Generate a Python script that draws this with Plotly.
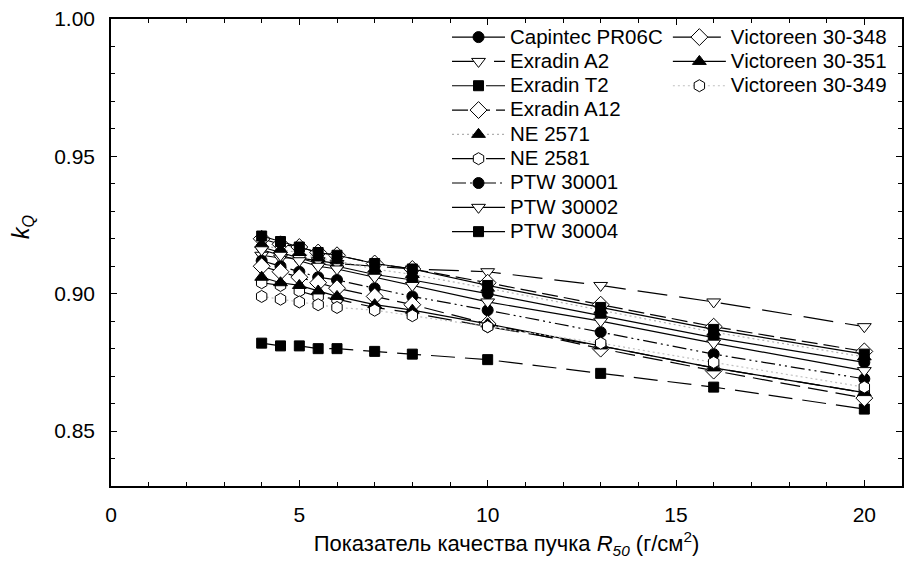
import plotly.graph_objects as go

# Beam quality R50 (g/cm^2)
r50 = [4.0, 4.5, 5.0, 5.5, 6.0, 7.0, 8.0, 10.0, 13.0, 16.0, 20.0]

capintec_pr06c = [0.917, 0.915, 0.913, 0.911, 0.910, 0.907, 0.905, 0.900, 0.892, 0.884, 0.875]
exradin_a2     = [0.914, 0.913, 0.913, 0.912, 0.911, 0.910, 0.909, 0.908, 0.903, 0.897, 0.888]
exradin_t2     = [0.882, 0.881, 0.881, 0.880, 0.880, 0.879, 0.878, 0.876, 0.871, 0.866, 0.858]
exradin_a12    = [0.920, 0.918, 0.917, 0.915, 0.914, 0.911, 0.909, 0.904, 0.896, 0.888, 0.879]
ne_2571        = [0.918, 0.916, 0.915, 0.913, 0.912, 0.909, 0.907, 0.902, 0.894, 0.886, 0.877]
ne_2581        = [0.904, 0.903, 0.901, 0.899, 0.898, 0.895, 0.893, 0.888, 0.881, 0.873, 0.864]
ptw_30001      = [0.912, 0.910, 0.908, 0.906, 0.905, 0.902, 0.899, 0.894, 0.886, 0.878, 0.869]
ptw_30002      = [0.916, 0.914, 0.912, 0.910, 0.909, 0.906, 0.903, 0.897, 0.890, 0.882, 0.872]
ptw_30004      = [0.921, 0.919, 0.917, 0.915, 0.914, 0.911, 0.909, 0.903, 0.895, 0.887, 0.878]
vic_30_348     = [0.910, 0.908, 0.906, 0.904, 0.902, 0.899, 0.896, 0.889, 0.880, 0.872, 0.862]
vic_30_351     = [0.906, 0.904, 0.903, 0.901, 0.899, 0.896, 0.894, 0.889, 0.881, 0.873, 0.864]
vic_30_349     = [0.899, 0.898, 0.897, 0.896, 0.895, 0.894, 0.892, 0.888, 0.882, 0.875, 0.866]

names = ["Capintec PR06C", "Exradin A2", "Exradin T2", "Exradin A12", "NE 2571",
         "NE 2581", "PTW 30001", "PTW 30002", "PTW 30004",
         "Victoreen 30-348", "Victoreen 30-351", "Victoreen 30-349"]
series = [capintec_pr06c, exradin_a2, exradin_t2, exradin_a12, ne_2571,
          ne_2581, ptw_30001, ptw_30002, ptw_30004,
          vic_30_348, vic_30_351, vic_30_349]

# style per series: (symbol, filled, size, dash, line colour)
styles = [
    ("circle", True, 11, "solid", "black"),
    ("triangle-down", False, 12, "30px,12px", "black"),
    ("square", True, 10, "24px,10px", "black"),
    ("diamond", False, 13, "16px,6px", "black"),
    ("triangle-up", True, 12, "2px,3px", "#b0b0b0"),
    ("hexagon", False, 12, "24px,10px", "black"),
    ("circle", True, 11, "14px,4px,2px,4px,2px,4px", "black"),
    ("triangle-down", False, 12, "solid", "black"),
    ("square", True, 10, "solid", "black"),
    ("diamond", False, 13, "20px,8px", "black"),
    ("triangle-up", True, 12, "solid", "black"),
    ("hexagon", False, 12, "2px,3px", "#c0c0c0"),
]

fig = go.Figure()
for i, (nm, ys, st) in enumerate(zip(names, series, styles)):
    sym, filled, size, dash, lc = st
    fig.add_trace(go.Scatter(
        x=r50, y=ys, mode="lines+markers",
        name='<span style="font-size:20.5px">' + nm + '</span>',
        line=dict(color=lc, width=1.2, dash=dash),
        marker=dict(symbol=sym, size=size,
                    color="black" if filled else "white",
                    line=dict(color="black", width=1)),
        legend="legend" if i < 9 else "legend2",
    ))

font_family = "Arial, Liberation Sans, sans-serif"

legend_common = dict(xanchor="left", yanchor="top", itemwidth=53,
                     bgcolor="rgba(0,0,0,0)", font=dict(size=16.4, family=font_family),
                     tracegroupgap=0)

fig.update_layout(
    width=904, height=562,
    margin=dict(l=111, r=2, t=19, b=76, autoexpand=False),
    paper_bgcolor="white", plot_bgcolor="white",
    font=dict(family=font_family, color="black", size=20),
    showlegend=True,
    legend=dict(x=0.4248, y=0.998, **legend_common),
    legend2=dict(x=0.704, y=0.998, **legend_common),
    xaxis=dict(
        range=[0, 21], tickvals=[0, 5, 10, 15, 20],
        ticks="inside", ticklen=6, tickwidth=1, tickcolor="black",
        minor=dict(dtick=1, ticks="inside", ticklen=4, tickwidth=1, tickcolor="black"),
        showline=True, linecolor="black", linewidth=1.5, mirror="allticks",
        showgrid=False, zeroline=False,
        tickfont=dict(size=21), ticklabelstandoff=9,
        title=dict(text="Показатель качества пучка <i>R</i><sub><i>50</i></sub> (г/см<sup>2</sup>)",
                   font=dict(size=22), standoff=11),
    ),
    yaxis=dict(
        range=[0.83, 1.0], tickvals=[0.85, 0.90, 0.95, 1.00], tickformat=".2f",
        ticks="inside", ticklen=6, tickwidth=1, tickcolor="black",
        minor=dict(dtick=0.01, ticks="inside", ticklen=4, tickwidth=1, tickcolor="black"),
        showline=True, linecolor="black", linewidth=1.5, mirror="allticks",
        showgrid=False, zeroline=False,
        tickfont=dict(size=21), ticklabelstandoff=10,
    ),
    annotations=[dict(
        text="<i>k</i><sub><i>Q</i></sub>", textangle=-90,
        xref="paper", yref="paper", x=(22 - 111) / 791, y=(486 - 227) / 467,
        xanchor="center", yanchor="middle", showarrow=False,
        font=dict(size=23, family=font_family),
    )],
)

fig.write_html("out.html", config={"displayModeBar": False},
               post_script="document.body.style.margin='0';")
